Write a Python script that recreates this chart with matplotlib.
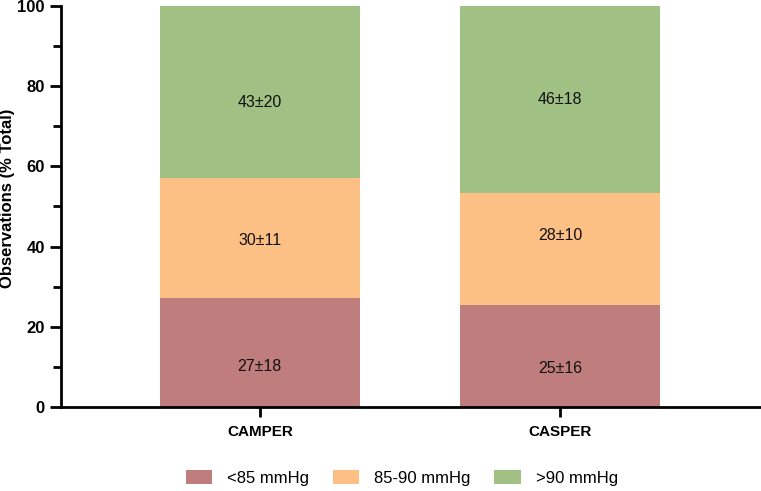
import numpy as np
import matplotlib
matplotlib.use("Agg")
import matplotlib.pyplot as plt
from matplotlib.ticker import MultipleLocator

plt.rcParams['font.family'] = ['Liberation Sans', 'DejaVu Sans']

groups = ['CAMPER', 'CASPER']
series = ['<85 mmHg', '85-90 mmHg', '>90 mmHg']
low = [27.1, 25.4]
mid = [30.1, 28.0]
high = [42.8, 46.6]
labels_low = ['27±18', '25±16']
labels_mid = ['30±11', '28±10']
labels_high = ['43±20', '46±18']

colors = ['#BF7D7D', '#FCBF84', '#A0C084']

fig = plt.figure(figsize=(7.61, 4.91), dpi=100)
ax = fig.add_axes([0.080, 0.171, 0.920, 0.817])

x = np.arange(len(groups))
w = 0.667
bottom = np.zeros(len(groups))
segs = [low, mid, high]
labs = [labels_low, labels_mid, labels_high]
frac = [[0.37, 0.38], [0.48, 0.62], [0.44, 0.50]]
for i, (vals, lab) in enumerate(zip(segs, labs)):
    vals = np.array(vals)
    ax.bar(x, vals, w, bottom=bottom, color=colors[i], label=series[i], linewidth=0)
    for j in range(len(groups)):
        ax.text(x[j], bottom[j] + vals[j] * frac[i][j], lab[j], ha='center', va='center',
                fontsize=11.5, color='#111111')
    bottom += vals

ax.set_xlim(-0.663, 1.67)
ax.set_ylim(0, 100)
ax.set_xticks(x)
ax.set_xticklabels(groups, fontweight='bold', fontsize=11)
ax.yaxis.set_major_locator(MultipleLocator(20))
ax.yaxis.set_minor_locator(MultipleLocator(10))
ax.tick_params(axis='y', which='major', length=8, width=2, labelsize=12)
ax.tick_params(axis='y', which='minor', length=5.5, width=2)
ax.tick_params(axis='x', length=7, width=2, pad=6)
for t in ax.get_yticklabels():
    t.set_fontweight('bold')
ax.set_ylabel('Observations (% Total)', fontweight='bold', fontsize=12)
ax.yaxis.set_label_coords(-0.066, 0.52)
ax.spines['top'].set_visible(False)
ax.spines['right'].set_visible(False)
ax.spines['left'].set_linewidth(2)
ax.spines['bottom'].set_linewidth(2)

ax.legend(loc='center', bbox_to_anchor=(0.487, -0.177), ncol=3, frameon=False,
          fontsize=12, handlelength=1.6, handleheight=0.9, columnspacing=1.4,
          handletextpad=0.9)

fig.savefig('out.png', dpi=100)
